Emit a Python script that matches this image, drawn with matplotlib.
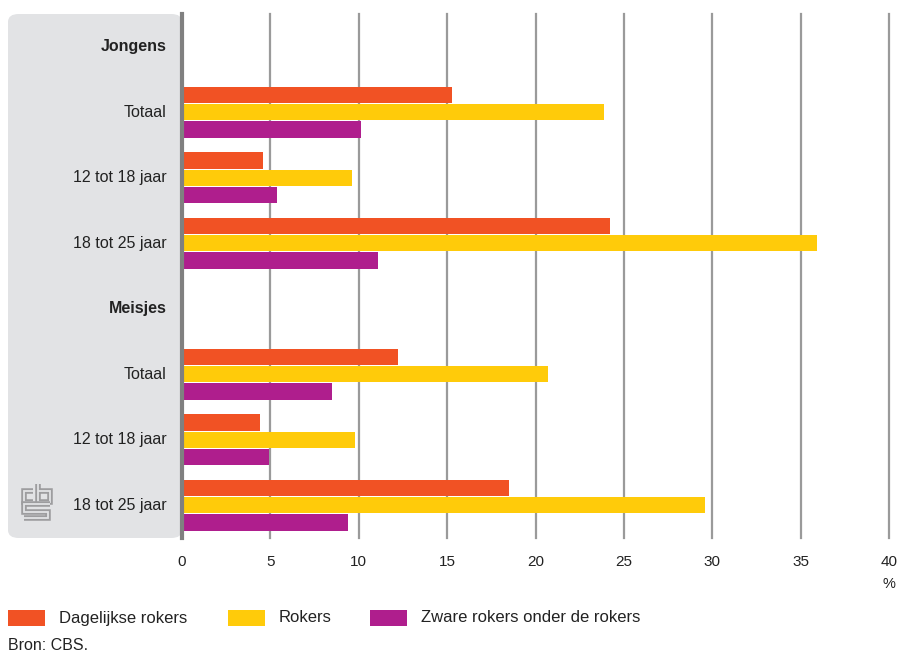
import matplotlib.pyplot as plt
from matplotlib.patches import FancyBboxPatch, Rectangle
import numpy as np

plt.rcParams['font.family'] = ['Liberation Sans', 'DejaVu Sans']

# Data (%)
rij_labels = ['Jongens', 'Totaal', '12 tot 18 jaar', '18 tot 25 jaar',
              'Meisjes', 'Totaal', '12 tot 18 jaar', '18 tot 25 jaar']
kop_rijen = [0, 4]
data_rijen = [1, 2, 3, 5, 6, 7]
dagelijks = [15.3, 4.6, 24.2, 12.2, 4.4, 18.5]
rokers = [23.9, 9.6, 35.9, 20.7, 9.8, 29.6]
zwaar = [10.1, 5.4, 11.1, 8.5, 4.9, 9.4]
reeksen = ['Dagelijkse rokers', 'Rokers', 'Zware rokers onder de rokers']
kleuren = ['#f15224', '#ffcb0a', '#af1e8d']
xticks = [0, 5, 10, 15, 20, 25, 30, 35, 40]

W, H = 900, 651
fig = plt.figure(figsize=(W / 100, H / 100), dpi=100)

def px(x, y):
    return x / W, 1 - y / H

# grijs paneel links
paneel = FancyBboxPatch(px(8, 538), 174 / W, (538 - 14) / H,
                        boxstyle='round,pad=0,rounding_size=0.012',
                        transform=fig.transFigure, facecolor='#e2e3e5',
                        edgecolor='none', zorder=-1)
fig.patches.append(paneel)

ax = fig.add_axes([182 / W, 1 - 538 / H, (889 - 182) / W, (538 - 14) / H])
ax.set_facecolor('none')

hoogte = 0.25
stap = 0.265
y = np.array(data_rijen, dtype=float)
for i, (vals, kleur) in enumerate(zip([dagelijks, rokers, zwaar], kleuren)):
    ax.barh(y + (i - 1) * stap, vals, height=hoogte, color=kleur,
            label=reeksen[i], zorder=3)

ax.set_xlim(0, 40)
ax.set_ylim(7.5, -0.5)
ax.set_xticks(xticks)
ax.set_yticks([])
for t in xticks[1:]:
    ax.axvline(t, color='#9a9a9a', lw=1.6, zorder=1, clip_on=False)
ax.axvline(0, color='#808080', lw=3, zorder=4, clip_on=False)
for s in ax.spines.values():
    s.set_visible(False)
ax.tick_params(axis='x', length=0, pad=12, labelsize=11, colors='#222222')

for r, lab in enumerate(rij_labels):
    bold = r in kop_rijen
    ax.text(-0.022, r, lab, transform=ax.get_yaxis_transform(), ha='right',
            va='center', fontsize=11.5, color='#222222',
            fontweight='bold' if bold else 'normal')

fig.text(*px(889, 584), '%', ha='center', va='center', fontsize=10.5,
         color='#222222')

# legenda
leg_x = [8, 228, 370]
for lx, naam, kleur in zip(leg_x, reeksen, kleuren):
    fig.patches.append(Rectangle(px(lx, 626), 37 / W, 16 / H,
                                 transform=fig.transFigure, facecolor=kleur,
                                 edgecolor='none'))
    fig.text(*px(lx + 51, 618), naam, ha='left', va='center', fontsize=12,
             color='#222222')

fig.text(*px(8, 645), 'Bron: CBS.', ha='left', va='center', fontsize=11.5,
         color='#222222')

# CBS-logo (grove benadering)
logo = [
    [(33, 491), (24, 491), (24, 502), (33, 502)],
    [(38, 484), (38, 502), (50, 502), (50, 491), (38, 491)],
    [(50, 504), (24, 504), (24, 512), (48, 512), (48, 518), (24, 518)],
]
for lijn in logo:
    xs = [p[0] / W for p in lijn]
    ys = [1 - p[1] / H for p in lijn]
    fig.add_artist(plt.Line2D(xs, ys, transform=fig.transFigure,
                              color='#9d9d9f', lw=4, solid_capstyle='butt',
                              solid_joinstyle='miter'))
    fig.add_artist(plt.Line2D(xs, ys, transform=fig.transFigure,
                              color='#e2e3e5', lw=1.3, solid_capstyle='butt',
                              solid_joinstyle='miter'))

fig.savefig('out.png', dpi=100)
